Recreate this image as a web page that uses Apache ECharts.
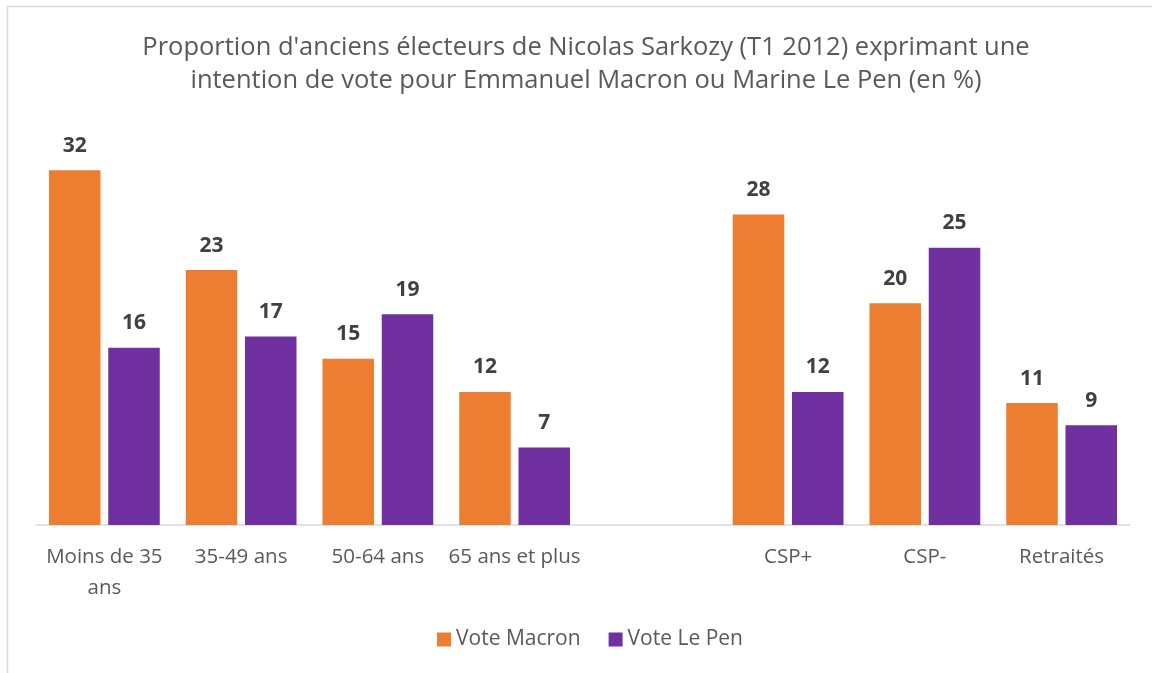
<!DOCTYPE html>
<html>
<head>
<meta charset="utf-8">
<script src="https://cdn.jsdelivr.net/npm/echarts@6/dist/echarts.min.js"></script>
<style>
html, body { margin: 0; padding: 0; background: #fff; }
#chart { width: 1152px; height: 673px; }
</style>
</head>
<body>
<div id="chart"></div>
<script>
// catégories (une colonne vide sépare les âges des CSP)
var categories = ['Moins de 35\nans', '35-49 ans', '50-64 ans', '65 ans et plus', '', 'CSP+', 'CSP-', 'Retraités'];
// vote Macron (en %)
var macronValues = [32, 23, 15, 12, '-', 28, 20, 11];
// vote Le Pen (en %)
var lepenValues = [16, 17, 19, 7, '-', 12, 25, 9];

var fontName = 'Open Sans';

var chartDom = document.getElementById('chart');
var myChart = echarts.init(chartDom);

var labelStyle = {
	show: true,
	position: 'top',
	distance: 14,
	color: '#404040',
	fontSize: 21,
	fontWeight: 'bold',
	fontFamily: fontName
};

var option = {
	animation: false,
	backgroundColor: '#fff',
	title: {
		text: "Proportion d'anciens électeurs de Nicolas Sarkozy (T1 2012) exprimant une\nintention de vote pour Emmanuel Macron ou Marine Le Pen (en %)",
		left: 581,
		textAlign: 'center',
		top: 26,
		textStyle: {
			color: '#595959',
			fontSize: 25.5,
			fontWeight: 'normal',
			fontFamily: fontName,
			lineHeight: 33
		}
	},
	graphic: [{
		type: 'rect',
		shape: { x: 7.5, y: 6.5, width: 1170, height: 700 },
		style: { fill: 'none', stroke: '#d9d9d9', lineWidth: 1.5 },
		silent: true
	}],
	legend: {
		bottom: 18,
		left: 432,
		itemWidth: 14,
		itemHeight: 14,
		itemGap: 28,
		icon: 'rect',
		textStyle: {
			color: '#595959',
			fontSize: 21,
			fontFamily: fontName
		},
		data: ['Vote Macron', 'Vote Le Pen']
	},
	grid: {
		left: 36,
		right: 22,
		top: 137,
		bottom: 148
	},
	xAxis: {
		type: 'category',
		data: categories,
		axisTick: { show: false },
		axisLine: { lineStyle: { color: '#d9d9d9', width: 1.5 } },
		axisLabel: {
			color: '#595959',
			fontSize: 20.5,
			fontFamily: fontName,
			margin: 17,
			lineHeight: 31,
			interval: 0
		}
	},
	yAxis: {
		type: 'value',
		min: 0,
		max: 35,
		show: false,
		splitLine: { show: false }
	},
	series: [
		{
			name: 'Vote Macron',
			type: 'bar',
			data: macronValues,
			itemStyle: { color: '#ED7D31' },
			barCategoryGap: '19%',
			barGap: '15%',
			label: labelStyle
		},
		{
			name: 'Vote Le Pen',
			type: 'bar',
			data: lepenValues,
			itemStyle: { color: '#7030A0' },
			label: labelStyle
		}
	]
};

option && myChart.setOption(option);
</script>
</body>
</html>
